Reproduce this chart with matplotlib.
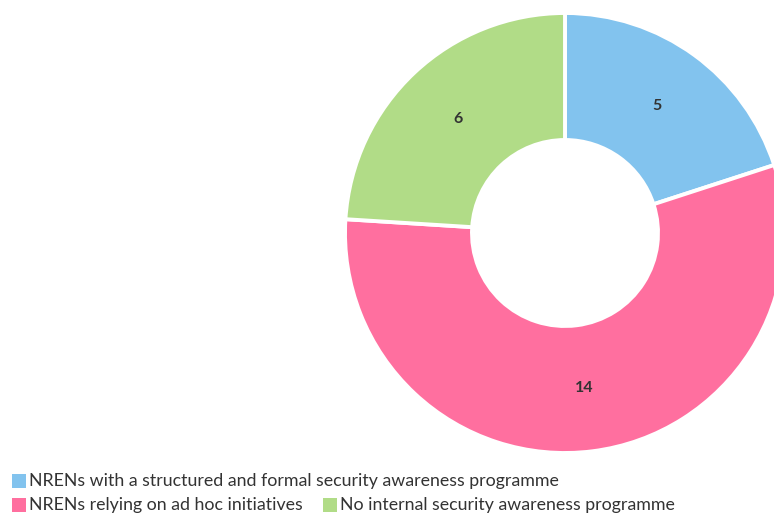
import matplotlib
matplotlib.use('Agg')
import matplotlib.pyplot as plt
from matplotlib.patches import Rectangle

labels = ['NRENs with a structured and formal security awareness programme',
          'NRENs relying on ad hoc initiatives',
          'No internal security awareness programme']
values = [5, 14, 6]
colors = ['#82C3EE', '#FF6F9F', '#B1DC87']

W, H = 774, 515
fig = plt.figure(figsize=(W / 100, H / 100), dpi=100)
ax = fig.add_axes([0, 0, 1, 1])

# donut in pixel coordinates (y measured from the bottom)
cx, cy, r_out, r_in = 565, H - 233, 220, 93
wedges, texts = ax.pie(values, colors=colors, startangle=90, counterclock=False,
                       center=(cx, cy), radius=r_out,
                       labels=[str(v) for v in values],
                       labeldistance=(r_out + r_in) / 2 / r_out,
                       wedgeprops=dict(width=r_out - r_in, edgecolor='white', linewidth=2.8))
for t in texts:
    t.set_horizontalalignment('center')
    t.set_verticalalignment('center')
    t.set_fontsize(11.5)
    t.set_fontweight('bold')
    t.set_color('#333333')
    t.set_family('Lato')

ax.set_xlim(0, W)
ax.set_ylim(0, H)
ax.set_aspect('equal')
ax.axis('off')

# legend, laid out as wrapped rows
rows = [[0], [1, 2]]
row_y = [H - 481, H - 505]
box = 14
fs = 12.8
fig.canvas.draw()
renderer = fig.canvas.get_renderer()
for ri, row in enumerate(rows):
    x = 12
    for i in row:
        y = row_y[ri]
        ax.add_patch(Rectangle((x, y - box / 2), box, box, facecolor=colors[i],
                               edgecolor='none', clip_on=False))
        t = ax.text(x + box + 3, y, labels[i], fontsize=fs, color='#333333',
                    va='center', ha='left', family='Lato')
        bb = t.get_window_extent(renderer)
        x = bb.x1 + 20

fig.savefig('out.png', dpi=100)
